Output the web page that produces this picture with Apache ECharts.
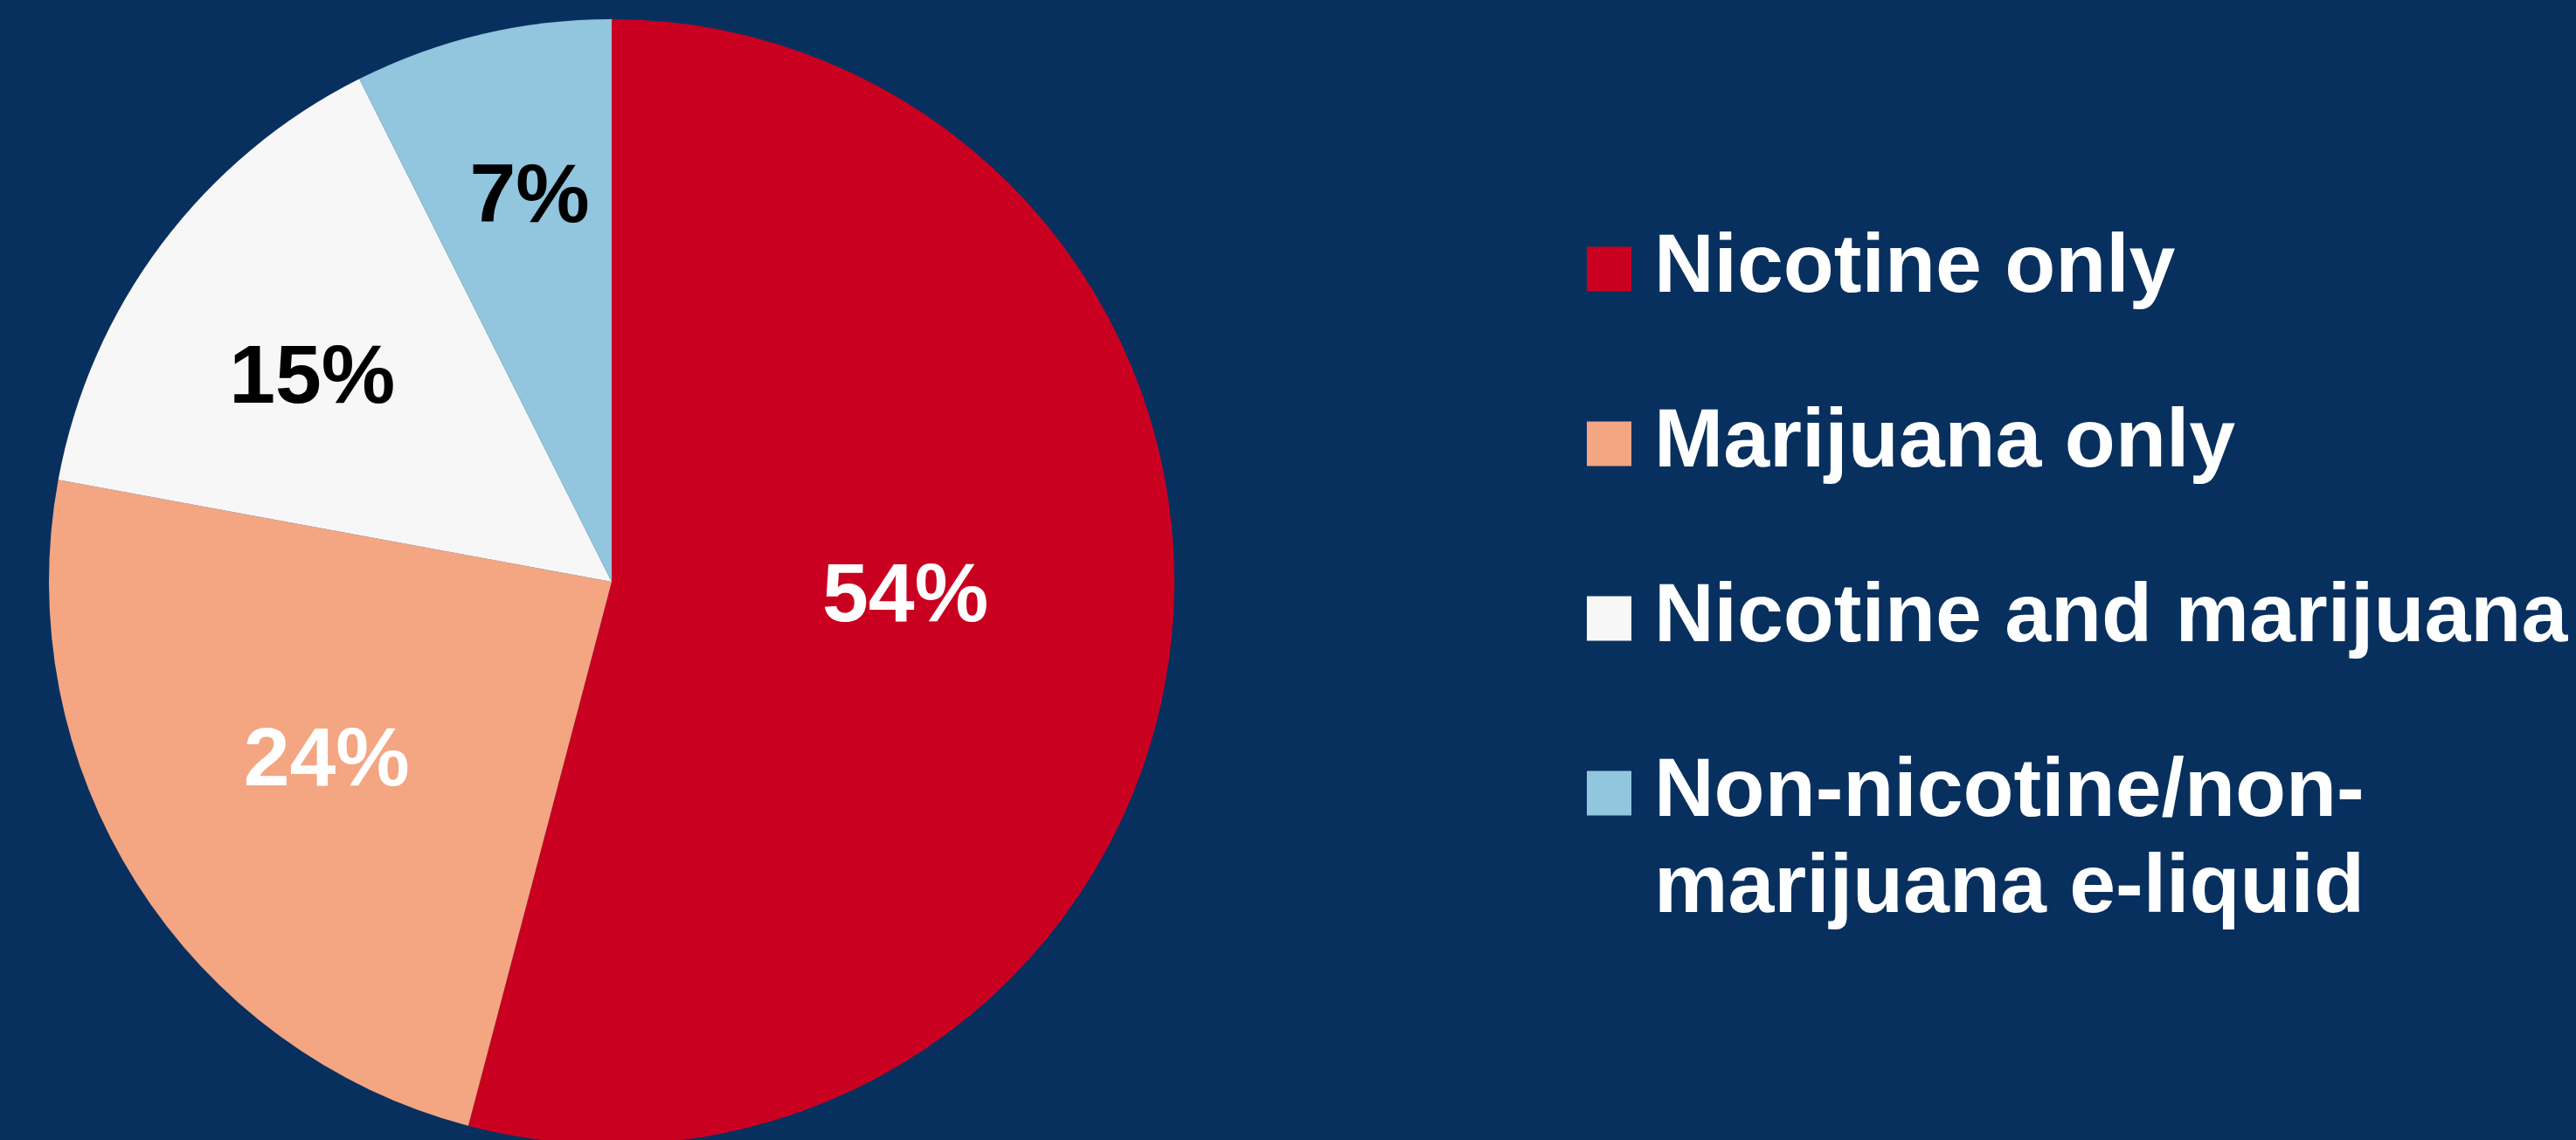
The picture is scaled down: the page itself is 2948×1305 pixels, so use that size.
<!DOCTYPE html>
<html>
<head>
<meta charset="utf-8">
<script src="https://cdn.jsdelivr.net/npm/echarts@6/dist/echarts.min.js"></script>
<style>
  html, body { margin: 0; padding: 0; background: #08305F; }
  #chart { width: 2948px; height: 1305px; }
</style>
</head>
<body>
<div id="chart"></div>
<script>
// ---- data ----
const categories = ['Nicotine only', 'Marijuana only', 'Nicotine and marijuana', 'Non-nicotine/non-marijuana e-liquid'];
const shares = [54.1, 23.8, 14.7, 7.4];
const shareLabels = ['54%', '24%', '15%', '7%'];

// ---- styles ----
const sliceColors = ['#CA0020', '#F4A582', '#F7F7F7', '#92C5DE'];
const labelColors = ['#FFFFFF', '#FFFFFF', '#000000', '#000000'];
const labelRadiusFrac = [0.52, 0.60, 0.65, 0.70];
const labelNudge = [[4, -24], [0, 0], [-8, 20], [10, 0]];
const FONT = '"Liberation Sans", Arial, "DejaVu Sans", sans-serif';
const CX = 700, CY = 666, R = 644;

const chart = echarts.init(document.getElementById('chart'));
const pieData = categories.map((c, i) => ({
  name: c,
  value: shares[i],
  itemStyle: { color: sliceColors[i] },
  label: { color: labelColors[i] }
}));

const legendText = {
  color: '#FFFFFF', fontSize: 95, fontWeight: 'bold', fontFamily: FONT, lineHeight: 110,
  padding: [0, 0, 0, 21]
};

chart.setOption({
  backgroundColor: '#08305F',
  animation: false,
  legend: [
    {
      data: categories.slice(0, 3),
      orient: 'vertical',
      left: 1816, top: 253,
      padding: 0,
      itemWidth: 51, itemHeight: 51, itemGap: 90,
      icon: 'rect',
      textStyle: legendText,
      selectedMode: false
    },
    {
      data: categories.slice(3),
      orient: 'vertical',
      left: 1816, top: 743,
      padding: 0,
      itemWidth: 51, itemHeight: 51,
      icon: 'rect',
      formatter: function () { return '\nNon-nicotine/non-\nmarijuana e-liquid'; },
      textStyle: legendText,
      selectedMode: false
    }
  ],
  series: [{
    type: 'pie',
    center: [CX, CY],
    radius: [0, R],
    startAngle: 90,
    clockwise: true,
    data: pieData,
    label: {
      show: true,
      position: 'inside',
      formatter: p => shareLabels[p.dataIndex],
      fontSize: 95,
      fontWeight: 'bold',
      fontFamily: FONT
    },
    labelLine: { show: false },
    labelLayout: function (p) {
      const r = p.labelRect;
      const lx = r.x + r.width / 2, ly = r.y + r.height / 2;
      const dx = lx - CX, dy = ly - CY;
      const d = Math.hypot(dx, dy) || 1;
      const k = labelRadiusFrac[p.dataIndex] * R / d;
      const n = labelNudge[p.dataIndex];
      return { x: CX + dx * k + n[0], y: CY + dy * k + n[1] };
    },
    emphasis: { disabled: true },
    itemStyle: { borderWidth: 0 }
  }]
});
</script>
</body>
</html>
